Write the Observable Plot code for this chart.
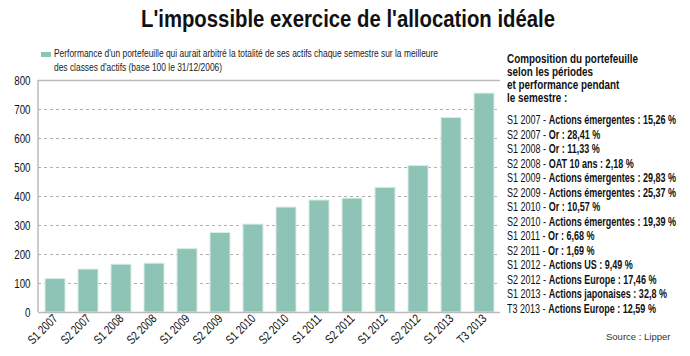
<!DOCTYPE html>
<html><head><meta charset="utf-8">
<script src="https://cdn.jsdelivr.net/npm/d3@7"></script>
<script src="https://cdn.jsdelivr.net/npm/@observablehq/plot@0.6"></script>
<style>
body{margin:0;background:#fff;}
#wrap{position:relative;width:690px;height:356px;overflow:hidden;font-family:"Liberation Sans",Arial,sans-serif;color:#111;}
.fit{display:inline-block;white-space:nowrap;transform-origin:0 0;}
#titlebox{position:absolute;left:141px;top:4px;}
#title{font-weight:bold;font-size:23.5px;line-height:30px;}
#legend{position:absolute;left:41px;top:46px;}
#legend .sw{position:absolute;left:0;top:6px;width:10px;height:5px;background:#8ec4b6;}
#legtext{position:absolute;left:13px;top:0;font-size:11.5px;line-height:14px;color:#222;}
#chart{position:absolute;left:0;top:70px;}
#hd{position:absolute;left:507px;top:53px;font-size:12.5px;font-weight:bold;line-height:13px;}
#rows{position:absolute;left:507px;top:113px;font-size:12.5px;line-height:14.5px;}
#rows b{font-weight:bold;}
#source{position:absolute;left:606px;top:331px;font-size:9.5px;color:#333;white-space:nowrap;}
</style></head>
<body><div id="wrap">
<div id="titlebox"><div id="title" class="fit"></div></div>
<div id="legend"><span class="sw"></span><div id="legtext" class="fit"></div></div>
<div id="chart"></div>
<div id="hd" class="fit"></div>
<div id="rows" class="fit"></div>
<div id="source"></div>
</div>
<script>
const titleText = "L'impossible exercice de l'allocation idéale";
const legendLines = ["Performance d'un portefeuille qui aurait arbitré la totalité de ses actifs chaque semestre sur la meilleure", "des classes d'actifs (base 100 le 31/12/2006)"];
const periods = ["S1 2007","S2 2007","S1 2008","S2 2008","S1 2009","S2 2009","S1 2010","S2 2010","S1 2011","S2 2011","S1 2012","S2 2012","S1 2013","T3 2013"];
const values = [115.3, 148.0, 164.8, 168.4, 218.6, 274.1, 303.1, 361.9, 386.1, 392.6, 429.8, 504.9, 670.5, 754.9];
const assets = ["Actions émergentes","Or","Or","OAT 10 ans","Actions émergentes","Actions émergentes","Or","Actions émergentes","Or","Or","Actions US","Actions Europe","Actions japonaises","Actions Europe"];
const perfs = ["15,26","28,41","11,33","2,18","29,83","25,37","10,57","19,39","6,68","1,69","9,49","17,46","32,8","12,59"];
const yTicks = [0,100,200,300,400,500,600,700,800];
const panelHeader = ["Composition du portefeuille","selon les périodes","et performance pendant","le semestre :"];
const sourceText = "Source : Lipper";

function fitTo(el, target, measureEl) {
  const w = (measureEl || el).getBoundingClientRect().width;
  const s = target / w;
  el.style.transform = `scaleX(${s})`;
  return s;
}

document.getElementById("title").textContent = titleText;
document.getElementById("legtext").innerHTML = legendLines.map(l => `<div>${l}</div>`).join("");
document.getElementById("source").textContent = sourceText;
document.getElementById("hd").innerHTML = panelHeader.map(l => `<div>${l}</div>`).join("");
document.getElementById("rows").innerHTML =
  periods.map((p,i)=>`<div><span>${p} - <b>${assets[i]} : ${perfs[i]} %</b></span></div>`).join("");

fitTo(document.getElementById("title"), 414);
fitTo(document.getElementById("legtext"), 384, document.querySelector("#legtext div"));
fitTo(document.getElementById("hd"), 131, document.querySelector("#hd div"));
fitTo(document.getElementById("rows"), 169, document.querySelector("#rows span"));

const data = periods.map((p,i)=>({period:p, value:values[i]}));
const chart = Plot.plot({
  width: 505, height: 286,
  marginTop: 10, marginBottom: 44, marginLeft: 38, marginRight: 5,
  style: {fontFamily: '"Liberation Sans",Arial,sans-serif', fontSize: "12.5px", color: "#111", background: "transparent"},
  x: {domain: periods, paddingInner: 0.4, paddingOuter: 0.2, label: null, tickSize: 0, tickRotate: -45, tickPadding: 4},
  y: {domain: [0, 800], ticks: yTicks, label: null, tickSize: 0, tickPadding: 8},
  marks: [
    Plot.ruleY(yTicks.filter(d => d > 0 && d < 800), {stroke: "#b0b0b0", strokeDasharray: "3,3", strokeWidth: 1}),
    Plot.barY(data, {x: "period", y: "value", fill: "#8ec4b6", stroke: "#d8ede7", strokeWidth: 1}),
    Plot.ruleY([0, 800], {stroke: "#bbbbbb", strokeWidth: 1.5})
  ]
});
document.getElementById("chart").appendChild(chart);
const ys = chart.scale("y");
d3.select(chart).append("line")
  .attr("x1", 38).attr("x2", 38)
  .attr("y1", ys.apply(800)).attr("y2", ys.apply(0))
  .attr("stroke", "#bbbbbb").attr("stroke-width", 1.5);
// condense the axis tick labels
d3.select(chart).selectAll("g[aria-label='y-axis tick label'] text, g[aria-label='x-axis tick label'] text")
  .each(function() {
    const t = this.getAttribute("transform") || "";
    this.setAttribute("transform", t + " scale(0.78,1)");
  });
</script>
</body></html>
